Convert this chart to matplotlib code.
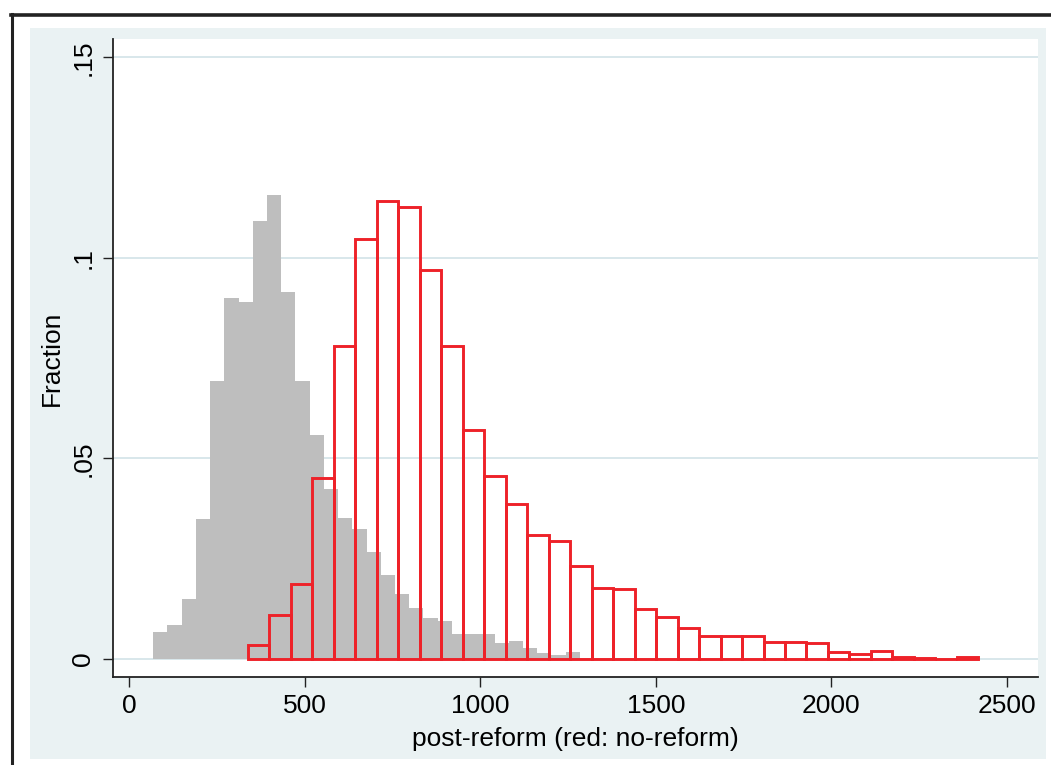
import numpy as np
import matplotlib
matplotlib.use("Agg")
import matplotlib.pyplot as plt
from matplotlib.lines import Line2D
from matplotlib.patches import Rectangle

# post-reform histogram (grey, filled)
post_start = 69.0
post_width = 40.5
post_frac = [0.0067, 0.0085, 0.0150, 0.0349, 0.0694, 0.0901, 0.0889, 0.1091, 0.1157,
             0.0914, 0.0692, 0.0558, 0.0425, 0.0352, 0.0323, 0.0267, 0.0209, 0.0162,
             0.0128, 0.0102, 0.0094, 0.0061, 0.0061, 0.0062, 0.0041, 0.0046, 0.0027,
             0.0015, 0.0011, 0.0017]

# no-reform histogram (red, outline)
noref_start = 338.0
noref_width = 61.2
noref_frac = [0.0034, 0.0109, 0.0187, 0.0451, 0.0781, 0.1048, 0.1141, 0.1128, 0.0969,
              0.0781, 0.0570, 0.0457, 0.0387, 0.0308, 0.0293, 0.0231, 0.0178, 0.0174,
              0.0125, 0.0105, 0.0077, 0.0058, 0.0056, 0.0058, 0.0043, 0.0042, 0.0039,
              0.0018, 0.0012, 0.0020, 0.0004, 0.0003, 0.0, 0.0004]

xticks = [0, 500, 1000, 1500, 2000, 2500]
yticks = [0, 0.05, 0.1, 0.15]
ytick_labels = ["0", ".05", ".1", ".15"]

W, H = 1051, 765
BLUE = "#eaf2f3"
GRID = "#d8e7eb"
RED = "#ee2229"
GREY = "#bebebe"

plt.rcParams['font.family'] = ['Liberation Sans', 'DejaVu Sans']
fs = 19

fig = plt.figure(figsize=(W / 100, H / 100), dpi=100)
fig.patch.set_facecolor("white")


def px(x0, y0, x1, y1):
    # pixel box (top-left origin) -> figure fraction [l, b, w, h]
    return [x0 / W, 1 - y1 / H, (x1 - x0) / W, (y1 - y0) / H]


# graph region background and outer frame
l, b, w, h = px(30, 28, 1046, 759)
fig.add_artist(Rectangle((l, b), w, h, transform=fig.transFigure,
                         facecolor=BLUE, edgecolor="none", zorder=-5))
fig.add_artist(Line2D([12 / W, 12 / W], [0, 1 - 14 / H], transform=fig.transFigure,
                      color="#222222", lw=2.2, zorder=-4))
fig.add_artist(Line2D([11 / W, 1], [1 - 15 / H, 1 - 15 / H], transform=fig.transFigure,
                      color="#222222", lw=2.6, zorder=-4))

ax = fig.add_axes(px(112.5, 39, 1037.5, 677))
ax.set_facecolor("white")

post_edges = post_start + post_width * np.arange(len(post_frac))
noref_edges = noref_start + noref_width * np.arange(len(noref_frac))

ax.bar(post_edges, post_frac, width=post_width, align="edge",
       color=GREY, edgecolor="none", zorder=2)
ax.bar(noref_edges, noref_frac, width=noref_width, align="edge",
       facecolor="none", edgecolor=RED, linewidth=2.1, zorder=3)

ax.set_xlim(-47, 2587)
ax.set_ylim(-0.0045, 0.1546)

for yv in yticks:
    ax.axhline(yv, color=GRID, lw=1.4, zorder=1)

ax.set_xticks(xticks)
ax.set_xticklabels([str(v) for v in xticks], fontsize=fs)
ax.set_yticks(yticks)
ax.set_yticklabels(ytick_labels, fontsize=fs, rotation=90, va="center")
ax.tick_params(axis="both", direction="out", length=7.5, width=1.0, color="#222222")
ax.tick_params(axis="x", pad=5)
ax.tick_params(axis="y", pad=5)

for s in ["top", "right"]:
    ax.spines[s].set_visible(False)
for s in ["left", "bottom"]:
    ax.spines[s].set_linewidth(1.3)
    ax.spines[s].set_color("#222222")

ax.set_xlabel("post-reform (red: no-reform)", fontsize=fs, labelpad=6)
ax.set_ylabel("Fraction", fontsize=fs, labelpad=5)

fig.savefig("out.png", dpi=100, facecolor="white")
